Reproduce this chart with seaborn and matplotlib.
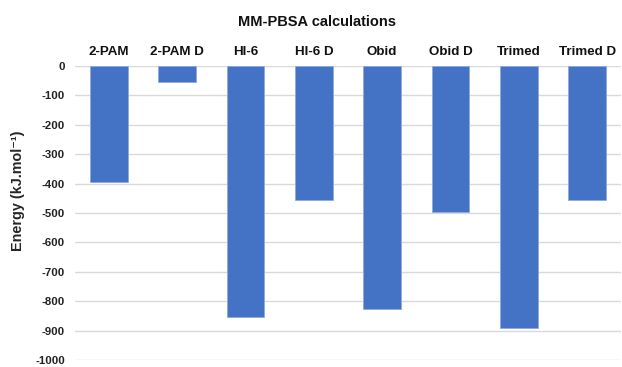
import matplotlib
matplotlib.use("Agg")
import matplotlib.pyplot as plt
import seaborn as sns
import pandas as pd

compounds = ["2-PAM", "2-PAM D", "HI-6", "HI-6 D", "Obid", "Obid D", "Trimed", "Trimed D"]
energy = [-395, -53, -855, -457, -826, -497, -891, -456]
y_ticks = list(range(0, -1001, -100))

sns.set_theme(style="white")
plt.rcParams["font.family"] = ["Liberation Sans", "DejaVu Sans"]

df = pd.DataFrame({"compound": compounds, "energy": energy})

fig = plt.figure(figsize=(6.22, 3.67), dpi=100)
ax = fig.add_axes([0.120, 0.019, 0.879, 0.801])

sns.barplot(data=df, x="compound", y="energy", color="#4472C4", saturation=1,
            width=0.55, edgecolor="#8faadc", linewidth=0.6, ax=ax, zorder=3)

ax.set_ylim(-1000, 0)
ax.set_yticks(y_ticks)
ax.set_yticklabels([str(t) for t in y_ticks], fontsize=8.2, fontweight="bold", color="#222222")
ax.yaxis.grid(True, color="#d9d9d9", linewidth=1)
ax.set_axisbelow(True)

ax.xaxis.tick_top()
ax.xaxis.set_label_position("top")
ax.tick_params(axis="x", length=0, pad=6, labelsize=9.6)
ax.tick_params(axis="y", length=0, pad=7)
for lbl in ax.get_xticklabels():
    lbl.set_fontweight("bold")
    lbl.set_color("#111111")
ax.set_xlabel("")
ax.set_ylabel("Energy (kJ.mol\u207b\u00b9)", fontsize=10.4, fontweight="bold",
              va="center", ha="center")
ax.yaxis.set_label_coords(-0.103, 0.575)

for s in ax.spines.values():
    s.set_visible(False)

fig.text(0.51, 0.94, "MM-PBSA calculations", ha="center", va="center",
         fontsize=10.5, fontweight="bold", color="#111111")

fig.savefig("out.png", dpi=100)
